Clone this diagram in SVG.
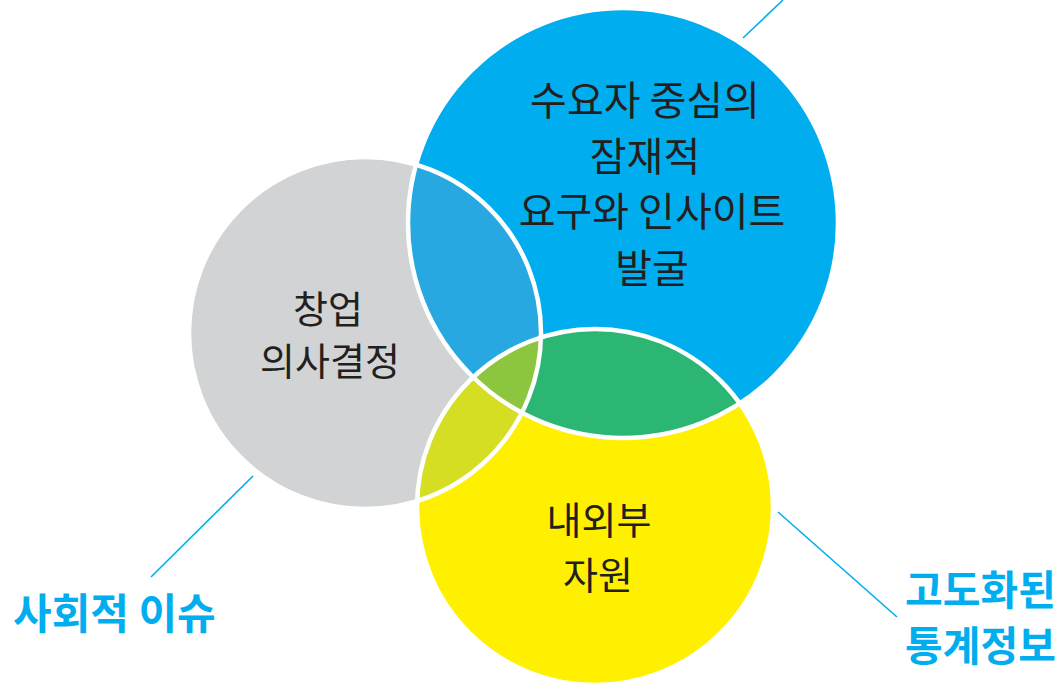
<svg xmlns="http://www.w3.org/2000/svg" width="1062" height="685" viewBox="0 0 1062 685">
<style>
.lbl{font-family:"Noto Sans CJK KR","Noto Sans",sans-serif;font-size:38px;fill:#231f20;text-anchor:middle}
.big{font-size:40px}
.ext{font-family:"Noto Sans CJK KR","Noto Sans",sans-serif;font-weight:bold;fill:#00aeef}
.edge{fill:none;stroke:#ffffff;stroke-width:4.5}
.conn{stroke:#00aeef;stroke-width:1.6;fill:none}
</style>
<defs>
<clipPath id="cg"><circle cx="365" cy="333" r="176"/></clipPath>
<clipPath id="cb"><circle cx="623" cy="223" r="215"/></clipPath>
</defs>
<rect width="1062" height="685" fill="#ffffff"/>
<g id="fills">
<circle cx="365" cy="333" r="176" fill="#d1d3d4"/>
<circle cx="623" cy="223" r="215" fill="#00aeef"/>
<circle cx="595" cy="507" r="178" fill="#fff000"/>
<circle cx="623" cy="223" r="215" fill="#27a8e0" clip-path="url(#cg)"/>
<circle cx="595" cy="507" r="178" fill="#d6de23" clip-path="url(#cg)"/>
<circle cx="595" cy="507" r="178" fill="#2bb673" clip-path="url(#cb)"/>
<g clip-path="url(#cg)"><circle cx="595" cy="507" r="178" fill="#8cc63f" clip-path="url(#cb)"/></g>
</g>
<g id="edges">
<circle class="edge" cx="365" cy="333" r="176"/>
<circle class="edge" cx="623" cy="223" r="215"/>
<circle class="edge" cx="595" cy="507" r="178"/>
</g>
<g id="connectors">
<line class="conn" x1="743" y1="38" x2="783" y2="0"/>
<line class="conn" x1="253" y1="476" x2="151" y2="577"/>
<line class="conn" x1="778" y1="512" x2="897" y2="617"/>
</g>
<g id="node-demand">
<text class="lbl big" x="645" y="115">수요자 중심의</text>
<text class="lbl big" x="645" y="171">잠재적</text>
<text class="lbl big" x="652" y="226">요구와 인사이트</text>
<text class="lbl big" x="652" y="283">발굴</text>
</g>
<g id="node-startup">
<text class="lbl" x="328" y="323">창업</text>
<text class="lbl" x="330" y="375">의사결정</text>
</g>
<g id="node-resources">
<text class="lbl" x="599" y="534">내외부</text>
<text class="lbl" x="598" y="589">자원</text>
</g>
<g id="label-social">
<text class="ext" x="13" y="629" font-size="42">사회적 이슈</text>
</g>
<g id="label-stats">
<text class="ext" x="905" y="605" font-size="41">고도화된</text>
<text class="ext" x="905" y="661" font-size="41">통계정보</text>
</g>
</svg>
